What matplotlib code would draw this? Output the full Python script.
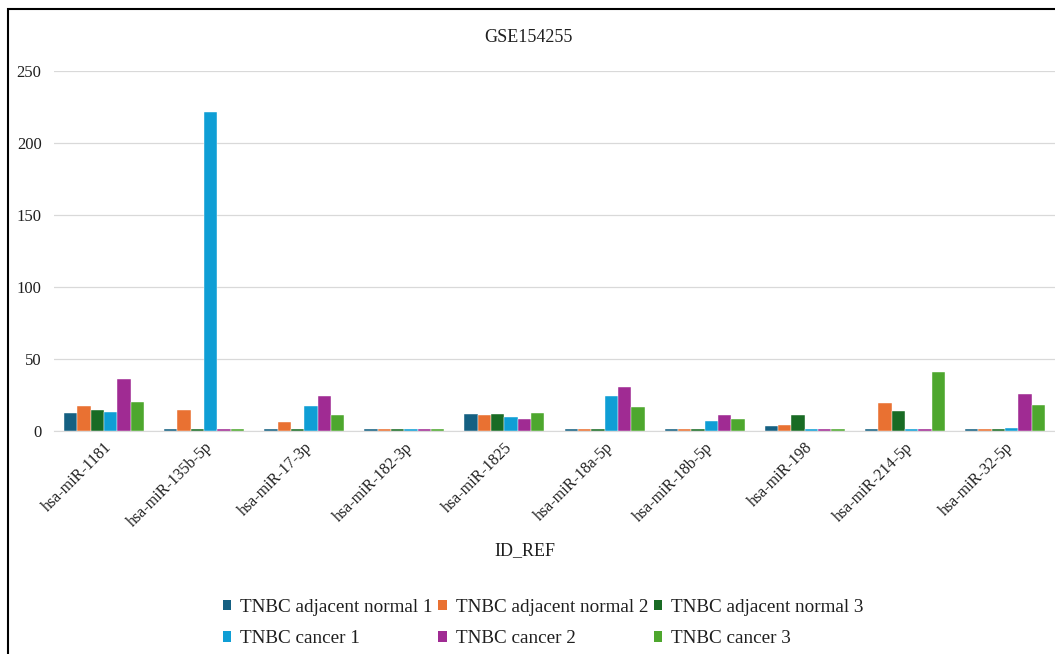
import matplotlib
matplotlib.use("Agg")
import matplotlib.pyplot as plt
import numpy as np
from matplotlib.patches import Rectangle, Patch

plt.rcParams['font.family'] = ['Liberation Serif', 'DejaVu Serif']

categories = ["hsa-miR-1181", "hsa-miR-135b-5p", "hsa-miR-17-3p", "hsa-miR-182-3p",
              "hsa-miR-1825", "hsa-miR-18a-5p", "hsa-miR-18b-5p", "hsa-miR-198",
              "hsa-miR-214-5p", "hsa-miR-32-5p"]

normal_1 = [12.3, 1.3, 1.3, 1.3, 11.8, 1.3, 1.3, 3.5, 1.3, 1.3]
normal_2 = [17.1, 14.8, 6.2, 1.3, 10.9, 1.3, 1.3, 4.4, 19.4, 1.3]
normal_3 = [14.8, 1.3, 1.3, 1.3, 11.8, 1.3, 1.3, 10.9, 13.9, 1.3]
cancer_1 = [13.0, 221.5, 17.1, 1.3, 9.9, 24.5, 6.7, 1.3, 1.3, 2.1]
cancer_2 = [36.3, 1.3, 24.5, 1.3, 8.3, 30.8, 10.9, 1.3, 1.3, 25.9]
cancer_3 = [20.4, 1.3, 10.9, 1.3, 12.5, 16.4, 8.3, 1.3, 41.0, 18.0]

series_names = ["TNBC adjacent normal 1", "TNBC adjacent normal 2", "TNBC adjacent normal 3",
                "TNBC cancer 1", "TNBC cancer 2", "TNBC cancer 3"]
series = [normal_1, normal_2, normal_3, cancer_1, cancer_2, cancer_3]
colors = ["#156082", "#E97132", "#196B24", "#0F9ED5", "#A02B93", "#4EA72E"]

TEXT = "#1f1f1f"
W, H = 1055, 654
fig = plt.figure(figsize=(W / 100, H / 100), dpi=100)

# outer frame
fig.patches.append(Rectangle((8 / W, -0.1), 1.2, (H - 9) / H + 0.1, transform=fig.transFigure,
                             fill=False, edgecolor="black", linewidth=1.5, clip_on=False))

ax = fig.add_axes([54 / W, (H - 431) / H, 1 - 54 / W, (431 - 71) / H])
x = np.arange(len(categories))
slot = 0.8 / len(series)
for i, (vals, name, c) in enumerate(zip(series, series_names, colors)):
    ax.bar(x - 0.4 + slot * (i + 0.5), vals, width=slot, color=c, edgecolor="white",
           linewidth=0.3, label=name, zorder=3)

ax.set_xlim(-0.5, len(categories) - 0.5)
ax.set_ylim(0, 250)
ax.set_yticks(range(0, 251, 50))
ax.grid(axis="y", color="#d9d9d9", linewidth=0.9, zorder=0)
ax.set_axisbelow(True)
for s in ["top", "right", "left"]:
    ax.spines[s].set_visible(False)
ax.spines["bottom"].set_color("#d9d9d9")
ax.spines["bottom"].set_zorder(0.5)
ax.tick_params(axis="both", length=0, colors=TEXT)
ax.tick_params(axis="y", pad=9, labelsize=12)
ax.set_xticks(x)
ax.set_xticklabels(categories, rotation=45, ha="right", rotation_mode="anchor")
ax.tick_params(axis="x", pad=6, labelsize=11.5)

fig.text(528 / W, 1 - 38 / H, "GSE154255", ha="center", va="center", fontsize=13, color=TEXT)
fig.text(525 / W, 1 - 551 / H, "ID_REF", ha="center", va="center", fontsize=13, color=TEXT)

# legend entries laid out row by row (3 per row)
order = [0, 3, 1, 4, 2, 5]
handles = [Patch(facecolor=colors[k], edgecolor="none") for k in order]
labels = [series_names[k] for k in order]
leg = fig.legend(handles, labels, loc="center", bbox_to_anchor=(543 / W, 1 - 623 / H),
                 ncol=3, frameon=False, fontsize=13.8, handlelength=0.45, handleheight=0.45,
                 handletextpad=0.45, columnspacing=0.3, labelspacing=0.75, labelcolor=TEXT)

fig.savefig("out.png", dpi=100)
